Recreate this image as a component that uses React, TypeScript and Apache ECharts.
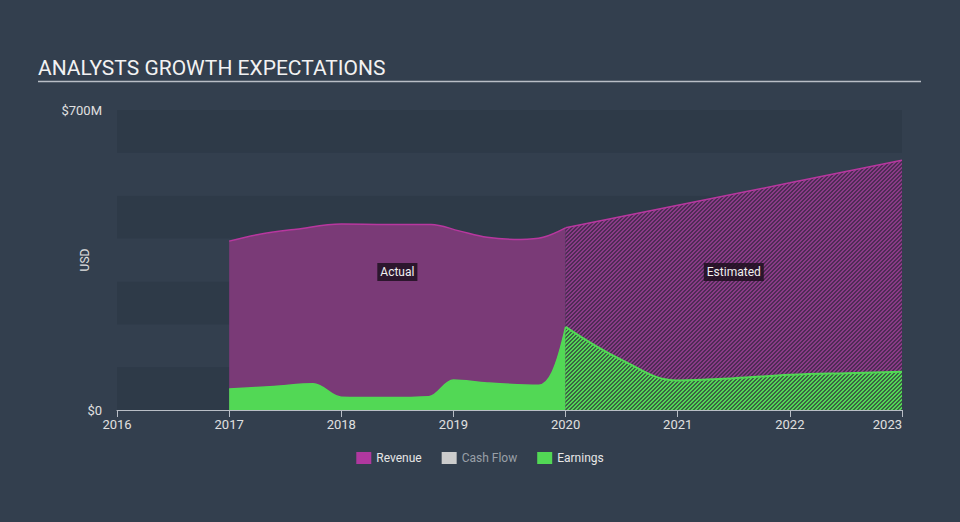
import React, { useEffect, useRef } from "react";
import * as echarts from "echarts";

const yearTicks = [2016, 2017, 2018, 2019, 2020, 2021, 2022, 2023];
const revenueActual: [number, number][] = [
  [2017, 394], [2017.25, 409], [2017.6, 422], [2018, 434], [2018.4, 433],
  [2018.8, 433], [2019.05, 418], [2019.3, 403], [2019.6, 398], [2019.8, 403], [2020, 425],
];
const revenueEstimate: [number, number][] = [
  [2020, 425], [2021, 478], [2022, 530], [2023, 583],
];
const earningsActual: [number, number][] = [
  [2017, 49], [2017.4, 55], [2017.75, 61], [2018, 30], [2018.4, 29],
  [2018.78, 31], [2019, 70], [2019.3, 63], [2019.76, 58], [2019.88, 88], [2020, 194],
];
const earningsEstimate: [number, number][] = [
  [2020, 194], [2020.5, 117], [2021, 69], [2021.5, 74], [2022, 82], [2022.5, 86], [2023, 89],
];
const cashFlow: [number, number][] = [];
const legendNames = ["Revenue", "Cash Flow", "Earnings"];
const regionLabels = [
  { name: "Actual", coord: [2018.5, 322] },
  { name: "Estimated", coord: [2021.5, 322] },
];

function makeHatch(bg: string, fg: string): string {
  const s = 4;
  const c = document.createElement("canvas");
  c.width = s;
  c.height = s;
  const ctx = c.getContext("2d")!;
  ctx.fillStyle = bg;
  ctx.fillRect(0, 0, s, s);
  ctx.fillStyle = fg;
  for (let x = 0; x < s; x++) {
    for (let y = 0; y < s; y++) {
      if ((x + y) % s < 2) ctx.fillRect(x, y, 1, 1);
    }
  }
  return c.toDataURL();
}

export default function App() {
  const ref = useRef<HTMLDivElement>(null);
  useEffect(() => {
    if (!ref.current) return;
    const chart = echarts.init(ref.current, null, { renderer: "svg" });
    const purpleHatch = { image: makeHatch("#4e2c55", "#8a3a87"), repeat: "repeat", imageWidth: 4, imageHeight: 4 };
    const greenHatch = { image: makeHatch("#3c6344", "#52d855"), repeat: "repeat", imageWidth: 4, imageHeight: 4 };
    const font = "Roboto, sans-serif";
    chart.setOption({
      animation: false,
      backgroundColor: "#333f4e",
      title: {
        text: "ANALYSTS GROWTH EXPECTATIONS",
        left: 33,
        top: 52,
        textStyle: { color: "#f2f2f2", fontSize: 21, fontWeight: "normal", fontFamily: font },
      },
      graphic: [
        { type: "line", shape: { x1: 38, y1: 81.5, x2: 921, y2: 81.5 }, style: { stroke: "#b9bec6", lineWidth: 1.5 } },
        {
          type: "text",
          x: 85,
          y: 260,
          rotation: Math.PI / 2,
          style: { text: "USD", fill: "#e0e0e0", fontSize: 12, fontFamily: font, align: "center", verticalAlign: "middle" },
        },
      ],
      legend: {
        bottom: 53,
        left: "center",
        itemWidth: 15,
        itemHeight: 12,
        itemGap: 20,
        icon: "rect",
        textStyle: { color: "#e6e6e6", fontSize: 12, fontFamily: font, fontWeight: "normal" },
        data: [
          { name: legendNames[0], itemStyle: { color: "#b0389f" } },
          { name: legendNames[1], itemStyle: { color: "#cccccc" }, textStyle: { color: "#9aa0a8" } },
          { name: legendNames[2], itemStyle: { color: "#52d855" } },
        ],
        selectedMode: false,
      },
      grid: { left: 117, right: 58, top: 110, bottom: 112 },
      xAxis: {
        type: "value",
        min: yearTicks[0],
        max: yearTicks[yearTicks.length - 1],
        interval: 1,
        axisLine: { show: true, lineStyle: { color: "#b9bec6", width: 1 } },
        axisTick: { show: true, length: 7, lineStyle: { color: "#b9bec6" } },
        axisLabel: {
          color: "#e0e0e0",
          fontSize: 13,
          fontFamily: font,
          margin: 8,
          alignMaxLabel: "right",
          formatter: (v: number) => String(v),
        },
        splitLine: { show: false },
      },
      yAxis: {
        type: "value",
        min: 0,
        max: 700,
        interval: 100,
        axisLine: { show: false },
        axisTick: { show: false },
        axisLabel: {
          color: "#e0e0e0",
          fontSize: 13,
          fontFamily: font,
          margin: 15,
          formatter: (v: number) => (v === 0 ? "$0" : v === 700 ? "$700M" : ""),
        },
        splitLine: { show: false },
        splitArea: { show: true, areaStyle: { color: ["#2e3a48", "#333f4e"] } },
      },
      series: [
        {
          name: "Revenue",
          type: "line",
          data: revenueActual,
          smooth: 0.35,
          symbol: "none",
          lineStyle: { color: "#b8379f", width: 1.5 },
          areaStyle: { color: "#7a3a77", opacity: 1 },
          markPoint: {
            symbol: "rect",
            symbolSize: 1,
            itemStyle: { color: "transparent" },
            label: {
              show: true,
              position: "inside",
              color: "#f0f0f0",
              fontSize: 12,
              fontFamily: font,
              backgroundColor: "rgba(30,16,32,0.85)",
              padding: [3, 3],
              formatter: (p: any) => p.name,
            },
            data: regionLabels.map((r) => ({ name: r.name, coord: r.coord })),
          },
        },
        {
          name: "Revenue",
          type: "line",
          data: revenueEstimate,
          smooth: false,
          symbol: "none",
          lineStyle: { color: "#b8379f", width: 1.5 },
          areaStyle: { color: purpleHatch, opacity: 1 },
        },
        {
          name: "Cash Flow",
          type: "line",
          data: cashFlow,
        },
        {
          name: "Earnings",
          type: "line",
          data: earningsActual,
          smooth: 0.35,
          symbol: "none",
          lineStyle: { color: "#52d855", width: 1.5 },
          areaStyle: { color: "#52d855", opacity: 1 },
        },
        {
          name: "Earnings",
          type: "line",
          data: earningsEstimate,
          smooth: 0.4,
          symbol: "none",
          lineStyle: { color: "#52d855", width: 2 },
          areaStyle: { color: greenHatch, opacity: 1 },
        },
      ],
    });
    return () => chart.dispose();
  }, []);
  return <div ref={ref} style={{ width: 960, height: 522, position: "absolute", left: 0, top: 0 }} />;
}
